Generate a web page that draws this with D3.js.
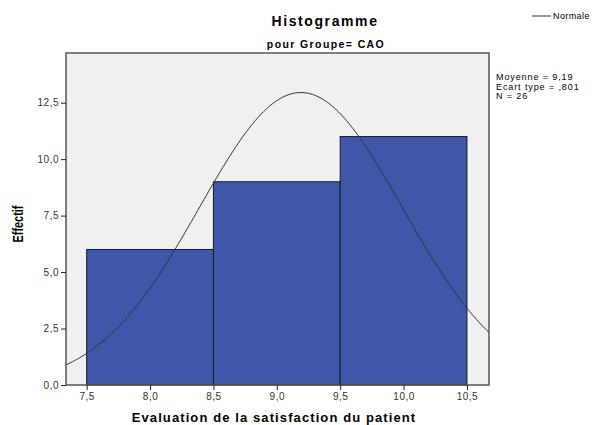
<!DOCTYPE html>
<html>
<head>
<meta charset="utf-8">
<script src="https://cdn.jsdelivr.net/npm/d3@7"></script>
<style>
  body { margin: 0; background: #fff; }
  svg text { font-family: Arial, "Liberation Sans", sans-serif; }
</style>
</head>
<body>
<div id="chart"></div>
<script>
// histogram bins (lower edge, upper edge) and counts
const binEdges = [7.5, 8.5, 9.5, 10.5];
const counts = [6, 9, 11];
const xTicks = [7.5, 8.0, 8.5, 9.0, 9.5, 10.0, 10.5];
const yTicks = [0, 2.5, 5, 7.5, 10, 12.5];
const stats = { mean: 9.19, sd: 0.801, n: 26 };
const statLines = ["Moyenne = 9,19", "Ecart type = ,801", "N = 26"];

const width = 595, height = 425;
const plot = { left: 66, top: 53, right: 489, bottom: 385 };

const svg = d3.select("#chart").append("svg")
  .attr("width", width)
  .attr("height", height);

const x = d3.scaleLinear().domain([7.337, 10.674]).range([plot.left, plot.right]);
const y = d3.scaleLinear().domain([0, 14.7]).range([plot.bottom, plot.top]);

const fmt = v => d3.format(".1f")(v).replace(".", ",");

// plot background
svg.append("rect")
  .attr("x", plot.left).attr("y", plot.top)
  .attr("width", plot.right - plot.left)
  .attr("height", plot.bottom - plot.top)
  .attr("fill", "#f0f0f0");

// bars
const bins = counts.map((c, i) => ({ x0: binEdges[i], x1: binEdges[i + 1], c }));
svg.append("g").selectAll("rect").data(bins).join("rect")
  .attr("x", d => x(d.x0))
  .attr("y", d => y(d.c))
  .attr("width", d => x(d.x1) - x(d.x0))
  .attr("height", d => y(0) - y(d.c))
  .attr("fill", "#3e57a9")
  .attr("stroke", "#1a1a1a")
  .attr("stroke-width", 1);

// normal curve scaled to counts (bin width 1)
const pdf = v => stats.n * 1 / (stats.sd * Math.sqrt(2 * Math.PI)) *
  Math.exp(-0.5 * Math.pow((v - stats.mean) / stats.sd, 2));
const xs = d3.range(200).map(i => x.domain()[0] + i * (x.domain()[1] - x.domain()[0]) / 199);
svg.append("path")
  .datum(xs)
  .attr("fill", "none")
  .attr("stroke", "#333")
  .attr("stroke-width", 1)
  .attr("d", d3.line().x(d => x(d)).y(d => y(pdf(d))));

// frame
svg.append("rect")
  .attr("x", plot.left).attr("y", plot.top)
  .attr("width", plot.right - plot.left)
  .attr("height", plot.bottom - plot.top)
  .attr("fill", "none")
  .attr("stroke", "#555")
  .attr("stroke-width", 1.5);

// axes
const xAxis = svg.append("g")
  .attr("transform", `translate(0,${plot.bottom})`)
  .call(d3.axisBottom(x).tickValues(xTicks).tickFormat(fmt).tickSize(5).tickPadding(3));
const yAxis = svg.append("g")
  .attr("transform", `translate(${plot.left},0)`)
  .call(d3.axisLeft(y).tickValues(yTicks).tickFormat(fmt).tickSize(5).tickPadding(2));
[xAxis, yAxis].forEach(a => {
  a.select(".domain").remove();
  a.selectAll("line").attr("stroke", "#222");
  a.selectAll("text").attr("fill", "#333")
    .style("font-size", "10px").style("letter-spacing", "0.5px");
});

// titles
svg.append("text")
  .attr("x", 325).attr("y", 26)
  .attr("text-anchor", "middle")
  .style("font-size", "14px").style("font-weight", "bold")
  .style("letter-spacing", "1.6px")
  .text("Histogramme");
svg.append("text")
  .attr("x", 326).attr("y", 48)
  .attr("text-anchor", "middle")
  .style("font-size", "10.5px").style("font-weight", "bold")
  .style("letter-spacing", "1.4px")
  .text("pour Groupe= CAO");

svg.append("text")
  .attr("x", 274).attr("y", 422)
  .attr("text-anchor", "middle")
  .style("font-size", "13px").style("font-weight", "bold")
  .style("letter-spacing", "1.1px")
  .text("Evaluation de la satisfaction du patient");

svg.append("text")
  .attr("transform", "translate(23,224) rotate(-90)")
  .attr("text-anchor", "middle")
  .attr("textLength", 37)
  .attr("lengthAdjust", "spacingAndGlyphs")
  .style("font-size", "14px").style("font-weight", "bold")
  .text("Effectif");

// legend
svg.append("line")
  .attr("x1", 532).attr("x2", 551).attr("y1", 16).attr("y2", 16)
  .attr("stroke", "#333");
svg.append("text")
  .attr("x", 553).attr("y", 19)
  .style("font-size", "9px").style("letter-spacing", "0.4px")
  .text("Normale");

// stats
svg.append("g").selectAll("text").data(statLines).join("text")
  .attr("x", 496)
  .attr("y", (d, i) => 80 + i * 9.5)
  .style("font-size", "9px").style("letter-spacing", "0.9px")
  .text(d => d);
</script>
</body>
</html>
